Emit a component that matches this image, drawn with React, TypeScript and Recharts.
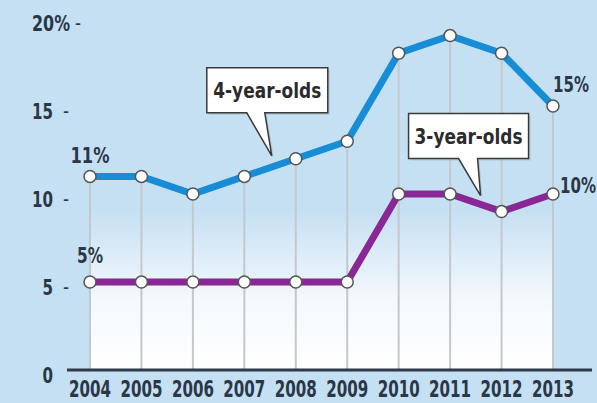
import { LineChart, Line, XAxis, YAxis, ReferenceArea, ReferenceLine, ReferenceDot, LabelList } from "recharts";

const YEARS = ["2004", "2005", "2006", "2007", "2008", "2009", "2010", "2011", "2012", "2013"];
const FOUR_YEAR_OLDS = [11, 11, 10, 11, 12, 13, 18, 19, 18, 15];
const THREE_YEAR_OLDS = [5, 5, 5, 5, 5, 5, 10, 10, 9, 10];
const Y_TICKS = [0, 5, 10, 15, 20];

const DATA = YEARS.map((year, i) => ({ year, four: FOUR_YEAR_OLDS[i], three: THREE_YEAR_OLDS[i] }));

// no narrow font installed, so squeeze text to the widths seen in the original
const FONT = "'DejaVu Sans', sans-serif";
const INK = "#2a3747";
const BG = "#c6e0f3";
const BLUE = "#168dd6";
const PURPLE = "#8a2796";

const squeeze = (s: string, perChar: number) => ({
  textLength: s.length * perChar,
  lengthAdjust: "spacingAndGlyphs" as const,
});

function YTick({ y, payload }: any) {
  const v = payload.value;
  const top = v === 20;
  const s = top ? "20%" : String(v);
  return (
    <g fontFamily={FONT} fontWeight={700} fontSize={21} fill={INK}>
      <text x={top ? 32 : 53} y={y + 13} textAnchor={top ? "start" : "end"} {...squeeze(s, top ? 12.7 : 10.5)}>
        {s}
      </text>
      {v !== 0 && <text x={top ? 75 : 63} y={y + 12} fontWeight={400} {...squeeze("-", 6)}>-</text>}
    </g>
  );
}

function XTick({ x, y, payload }: any) {
  return (
    <text x={x} y={y + 19} textAnchor="middle" fontFamily={FONT} fontWeight={700} fontSize={23} fill={INK} {...squeeze(payload.value, 10.5)}>
      {payload.value}
    </text>
  );
}

function Callout({ cx, cy, text, tip, box, base }: any) {
  const [tx, ty] = tip;
  const [l, t, r, b] = box;
  const [bl, br] = base;
  const d = `M${cx + l},${cy + t} H${cx + r} V${cy + b} H${cx + br} L${cx + tx},${cy + ty} L${cx + bl},${cy + b} H${cx + l} Z`;
  return (
    <g>
      <path d={d} transform="translate(2,2)" fill="#8fa3b3" opacity={0.4} />
      <path d={d} fill="#fff" stroke="#3a3a3a" strokeWidth={1.5} />
      <text
        x={cx + (l + r) / 2}
        y={cy + (t + b) / 2 + 8}
        textAnchor="middle"
        fontFamily={FONT}
        fontWeight={700}
        fontSize={21}
        fill="#2b2b2b"
        textLength={108}
        lengthAdjust="spacingAndGlyphs"
      >
        {text}
      </text>
    </g>
  );
}

const endLabel = (lastDx: number, lastDy: number, firstDy: number) => (p: any) => {
  const { x, y, index, value } = p;
  const s = `${value}%`;
  if (index === 0) {
    return (
      <text x={x} y={y + firstDy} textAnchor="middle" fontFamily={FONT} fontWeight={700} fontSize={22} fill={INK} {...squeeze(s, 13)}>
        {s}
      </text>
    );
  }
  if (index === YEARS.length - 1) {
    return (
      <text x={x + lastDx} y={y + lastDy} fontFamily={FONT} fontWeight={700} fontSize={22} fill={INK} {...squeeze(s, 12)}>
        {s}
      </text>
    );
  }
  return null;
};

export default function App() {
  return (
    <div style={{ position: "absolute", left: 0, top: 0, width: 597, height: 403, background: BG }}>
      <LineChart width={597} height={403} data={DATA} margin={{ top: 18, right: 5, bottom: 3, left: 7 }}>
        <defs>
          <linearGradient id="fade" x1="0" y1="0" x2="0" y2="1">
            <stop offset="0%" stopColor="#fff" stopOpacity={0} />
            <stop offset="55%" stopColor="#fff" stopOpacity={0.8} />
            <stop offset="100%" stopColor="#fff" stopOpacity={1} />
          </linearGradient>
        </defs>
        <XAxis
          dataKey="year"
          height={30}
          padding={{ left: 23, right: 39 }}
          axisLine={{ stroke: "#2d3b4b", strokeWidth: 3 }}
          tickLine={false}
          tick={<XTick />}
          interval={0}
        />
        <YAxis
          width={60}
          domain={[0, 20]}
          ticks={Y_TICKS}
          axisLine={false}
          tickLine={false}
          tick={<YTick />}
        />
        <ReferenceArea x1="2004" x2="2013" y1={0} y2={9} fill="url(#fade)" fillOpacity={1} stroke="none" />
        {DATA.map((d) => (
          <ReferenceLine
            key={d.year}
            segment={[{ x: d.year, y: 0 }, { x: d.year, y: d.four }]}
            stroke="#c4c8cd"
            strokeWidth={2}
          />
        ))}
        <Line
          dataKey="three"
          stroke={PURPLE}
          strokeWidth={7}
          dot={{ r: 6, fill: "#fff", stroke: "#555", strokeWidth: 1.5 }}
          activeDot={false}
          isAnimationActive={false}
        >
          <LabelList dataKey="three" content={endLabel(7, -1, -19)} />
        </Line>
        <Line
          dataKey="four"
          stroke={BLUE}
          strokeWidth={7}
          dot={{ r: 6, fill: "#fff", stroke: "#555", strokeWidth: 1.5 }}
          activeDot={false}
          isAnimationActive={false}
        >
          <LabelList dataKey="four" content={endLabel(0, -14, -13)} />
        </Line>
        <ReferenceDot
          x="2008"
          y={12}
          r={0}
          shape={(p: any) => (
            <Callout cx={p.cx} cy={p.cy} text="4-year-olds" tip={[-24, -3]} box={[-89, -91, 32, -46]} base={[-49, -31]} />
          )}
        />
        <ReferenceDot
          x="2012"
          y={9}
          r={0}
          shape={(p: any) => (
            <Callout cx={p.cx} cy={p.cy} text="3-year-olds" tip={[-21, -16]} box={[-93, -98, 27, -53]} base={[-43, -24]} />
          )}
        />
      </LineChart>
    </div>
  );
}
